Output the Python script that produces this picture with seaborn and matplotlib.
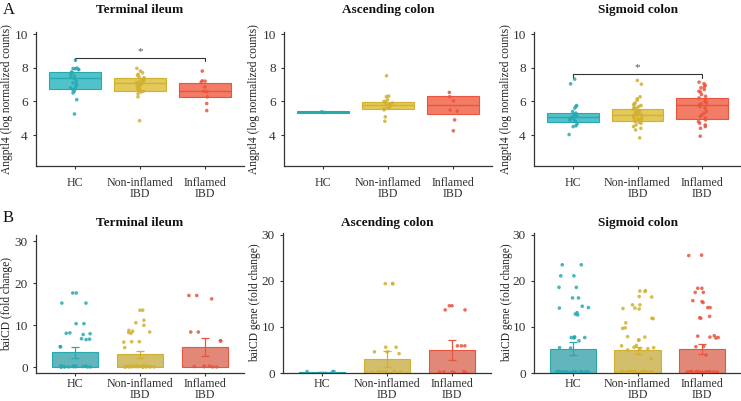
import numpy as np
import pandas as pd
import matplotlib
matplotlib.use("Agg")
import matplotlib.pyplot as plt
import seaborn as sns

GROUPS = ["HC", "Non-inflamed\nIBD", "Inflamed\nIBD"]
SITES = ["Terminal ileum", "Ascending colon", "Sigmoid colon"]
FILL = ["#52C2CA", "#E3C95A", "#F27C66"]
EDGE = ["#27A9B2", "#D1B032", "#E8553F"]

# --- panel A: Angptl4 (log normalized counts), points per group ---
ti_hc = [8.45, 7.98, 7.95, 7.93, 7.9, 7.88, 7.75, 7.7, 7.6, 7.5, 7.42, 7.35, 7.2,
         7.1, 7.0, 6.9, 6.8, 6.75, 6.7, 6.6, 6.5, 6.1, 5.25]
ti_ni = [7.96, 7.8, 7.7, 7.6, 7.55, 7.45, 7.4, 7.35, 7.3, 7.25, 7.2, 7.15, 7.1, 7.05,
         7.0, 6.95, 6.9, 6.85, 6.8, 6.75, 6.7, 6.65, 6.6, 6.55, 6.45, 6.27, 4.85]
ti_inf = [7.8, 7.22, 7.2, 7.15, 6.86, 6.6, 6.57, 6.27, 5.87, 5.45]
ac_hc = [5.38, 5.34]
ac_ni = [7.52, 6.31, 6.28, 6.1, 6.0, 5.97, 5.9, 5.85, 5.8, 5.75, 5.7, 5.65, 5.6,
         5.55, 5.5, 5.08, 4.82]
ac_inf = [6.53, 6.27, 6.03, 5.48, 5.42, 4.9, 4.25]
sc_hc = [7.32, 7.04, 5.75, 5.7, 5.6, 5.4, 5.3, 5.25, 5.2, 5.15, 5.1, 5.05, 5.0, 4.95,
         4.9, 4.85, 4.8, 4.65, 4.55, 4.5, 4.03]
sc_ni = [7.24, 7.02, 6.27, 6.15, 6.07, 5.9, 5.85, 5.8, 5.75, 5.7, 5.65, 5.6, 5.55,
         5.5, 5.45, 5.4, 5.35, 5.3, 5.25, 5.2, 5.18, 5.15, 5.1, 5.05, 5.0, 4.95, 4.9,
         4.85, 4.8, 4.75, 4.7, 4.6, 4.5, 4.4, 4.3, 3.83]
sc_inf = [7.14, 7.05, 6.95, 6.86, 6.8, 6.7, 6.6, 6.55, 6.4, 6.3, 6.2, 6.1, 6.0, 5.9,
          5.85, 5.8, 5.7, 5.6, 5.4, 5.3, 5.2, 5.1, 5.0, 4.9, 4.8, 4.7, 4.6, 4.5, 4.4, 3.93]

# box stats (q1, median, q3) per site, order HC / non-inflamed / inflamed
box_q1 = [[6.72, 6.63, 6.27], [5.30, 5.55, 5.26], [4.80, 4.84, 4.96]]
box_med = [[7.38, 7.07, 6.59], [5.36, 5.77, 5.77], [5.08, 5.18, 5.80]]
box_q3 = [[7.72, 7.36, 7.12], [5.42, 5.99, 6.29], [5.30, 5.52, 6.17]]
sig_y = [8.57, None, 7.60]

# --- panel B: baiCD (fold change), points per group ---
b_ti_hc = [17.7, 17.7, 15.3, 15.3, 10.4, 10.4, 8.1, 8.0, 7.8, 8.2, 6.7, 6.8, 6.6, 4.9, 4.9,
           0.2, 0.1, 0.3, 0.2, 0.1, 0.2, 0.3, 0.1, 0.2, 0.2, 0.1, 0.3, 0.2, 0.1, 0.2, 0.3, 0.1, 0.2]
b_ti_ni = [13.6, 13.6, 11.2, 10.6, 10.0, 8.8, 8.6, 8.4, 8.3, 8.1, 6.1, 6.1, 6.0, 4.7,
           0.2, 0.1, 0.3, 0.2, 0.1, 0.2, 0.3, 0.1, 0.2, 0.2, 0.1, 0.3, 0.2, 0.1, 0.2, 0.3,
           0.1, 0.2, 0.2, 0.1, 0.3, 0.2, 0.1, 0.2]
b_ti_inf = [17.1, 17.1, 16.3, 8.4, 8.4, 6.3, 6.3, 0.2, 0.1, 0.3, 0.2, 0.1, 0.2]
b_ac_hc = [0.3, 0.3, 0.3]
b_ac_ni = [19.4, 19.4, 19.4, 5.6, 5.6, 4.6, 4.6, 4.2,
           0.2, 0.1, 0.3, 0.2, 0.1, 0.2, 0.3, 0.1, 0.2, 0.2]
b_ac_inf = [14.6, 14.6, 13.7, 13.7, 5.9, 5.9, 5.9, 0.2, 0.1, 0.3, 0.2, 0.1, 0.2]
b_sc_hc = [23.5, 23.5, 21.1, 21.1, 18.6, 18.6, 16.3, 16.3, 14.5, 14.2, 14.1, 13.1, 12.8,
           12.6, 7.8, 7.8, 7.7, 7.7, 7.6, 7.0, 5.5, 5.4,
           0.2, 0.1, 0.3, 0.2, 0.1, 0.2, 0.3, 0.1, 0.2, 0.2, 0.1, 0.3, 0.2, 0.1, 0.2, 0.3,
           0.1, 0.2, 0.2, 0.1, 0.3, 0.2, 0.1, 0.2]
b_sc_ni = [17.9, 17.8, 17.7, 16.6, 16.5, 14.8, 14.8, 14.0, 13.9, 14.1, 11.8, 11.9, 10.9,
           9.7, 9.8, 7.9, 7.8, 7.2, 7.1, 6.0, 5.9, 5.6, 5.5, 5.3, 5.2, 5.0, 3.1,
           0.2, 0.1, 0.3, 0.2, 0.1, 0.2, 0.3, 0.1, 0.2, 0.2, 0.1, 0.3, 0.2, 0.1, 0.2, 0.3,
           0.1, 0.2, 0.2, 0.1, 0.3, 0.2, 0.1, 0.2, 0.3, 0.2, 0.1, 0.2]
b_sc_inf = [25.6, 25.5, 18.4, 18.4, 17.5, 17.5, 15.7, 15.5, 15.3, 14.2, 14.2, 12.3, 12.0,
            11.9, 8.1, 8.0, 7.8, 7.7, 7.6, 5.8, 5.7, 3.9,
            0.2, 0.1, 0.3, 0.2, 0.1, 0.2, 0.3, 0.1, 0.2, 0.2, 0.1, 0.3, 0.2, 0.1, 0.2, 0.3,
            0.1, 0.2, 0.2, 0.1, 0.3, 0.2]

# bar means and standard errors
bar_mean = [[3.62, 3.07, 4.80], [0.20, 3.10, 5.05], [5.30, 4.95, 5.20]]
bar_se = [[1.30, 0.80, 2.20], [0.05, 1.75, 2.15], [1.45, 0.80, 1.00]]

A_VALS = [[ti_hc, ti_ni, ti_inf], [ac_hc, ac_ni, ac_inf], [sc_hc, sc_ni, sc_inf]]
B_VALS = [[b_ti_hc, b_ti_ni, b_ti_inf], [b_ac_hc, b_ac_ni, b_ac_inf],
          [b_sc_hc, b_sc_ni, b_sc_inf]]
B_YLABEL = ["baiCD (fold change)", "baiCD gene (fold change)", "baiCD gene (fold change)"]

sns.set_theme(style="white")
plt.rcParams["font.family"] = ["Liberation Serif", "DejaVu Serif"]
plt.rcParams["axes.edgecolor"] = "#333333"
np.random.seed(3)

W, H = 741, 401
fig = plt.figure(figsize=(W / 100, H / 100), dpi=100)


def px_axes(x0, y0, x1, y1):
    return fig.add_axes([x0 / W, 1 - y1 / H, (x1 - x0) / W, (y1 - y0) / H])


def long_df(groups):
    rows = [(g, v) for g, vals in zip(GROUPS, groups) for v in vals]
    return pd.DataFrame(rows, columns=["group", "value"])


def style_axes(ax, ylabel, xpad):
    sns.despine(ax=ax)
    for s in ["left", "bottom"]:
        ax.spines[s].set_linewidth(0.9)
        ax.spines[s].set_color("#333333")
    ax.tick_params(axis="both", length=2.5, width=0.8, color="#333333",
                   labelsize=9.5, labelcolor="#333333", left=True, bottom=True)
    ax.tick_params(axis="x", pad=xpad, labelsize=8.6)
    ax.set_xticks(range(3))
    ax.set_xticklabels(GROUPS, linespacing=0.92)
    ax.set_xlim(-0.6, 2.6)
    ax.set_xlabel("")
    ax.set_ylabel(ylabel, fontsize=8.3, color="#222222")


# top row: boxes + points
top_rects = [(36, 32, 244, 166), (284, 32, 492, 166), (534, 32, 741, 166)]
top_lab_x = [-0.112, -0.115, -0.106]
for i, rect in enumerate(top_rects):
    ax = px_axes(*rect)
    q1 = np.array(box_q1[i])
    q3 = np.array(box_q3[i])
    ax.bar(range(3), q3 - q1, bottom=q1, width=0.8, color=FILL, edgecolor=EDGE,
           linewidth=0.8, zorder=1)
    ax.hlines(box_med[i], np.arange(3) - 0.4, np.arange(3) + 0.4, colors=EDGE,
              linewidth=1.0, zorder=2)
    sns.stripplot(data=long_df(A_VALS[i]), x="group", y="value", hue="group",
                  order=GROUPS, hue_order=GROUPS, palette=EDGE, jitter=0.07, size=2.6,
                  alpha=0.85, linewidth=0, legend=False, ax=ax, zorder=3)
    if sig_y[i] is not None:
        y = sig_y[i]
        ax.plot([0, 0, 2, 2], [y - 0.2, y, y, y - 0.2], color="#333333", lw=0.8)
        ax.text(1, y + 0.12, "*", ha="center", va="bottom", fontsize=8, color="#555555")
    ax.set_ylim(2.16, 10.12)
    ax.set_yticks([4, 6, 8, 10])
    style_axes(ax, "Angptl4 (log normalized counts)", 5.5)
    ax.yaxis.set_label_coords(top_lab_x[i], 0.5)
    fig.text((rect[0] + rect[2]) / 2 / W, 1 - 10 / H, SITES[i], ha="center",
             va="center", fontsize=9.5, fontweight="bold", color="#111111")

# bottom row: bars + SE + points
bot_rects = [(36, 235, 244, 373), (283, 233, 491, 373), (534, 233, 741, 373)]
bot_ylim = [(-1.35, 31.5), (0, 30.4), (0, 30.4)]
bot_lab_x = [-0.112, -0.106, -0.1]
for i, rect in enumerate(bot_rects):
    ax = px_axes(*rect)
    summ = pd.DataFrame({"group": GROUPS, "mean": bar_mean[i]})
    sns.barplot(data=summ, x="group", y="mean", hue="group", order=GROUPS,
                hue_order=GROUPS, palette=FILL, width=0.72, errorbar=None,
                legend=False, ax=ax, zorder=1)
    for p, ec in zip(ax.patches, EDGE):
        p.set_edgecolor(ec)
        p.set_linewidth(0.8)
    for j in range(3):
        ax.errorbar(j, bar_mean[i][j], yerr=bar_se[i][j], fmt="none", ecolor=EDGE[j],
                    elinewidth=0.9, capsize=3, capthick=0.9, zorder=2)
    sns.stripplot(data=long_df(B_VALS[i]), x="group", y="value", hue="group",
                  order=GROUPS, hue_order=GROUPS, palette=EDGE, jitter=0.25, size=2.6,
                  alpha=0.85, linewidth=0, legend=False, ax=ax, zorder=3)
    ax.set_ylim(*bot_ylim[i])
    ax.set_yticks([0, 10, 20, 30])
    style_axes(ax, B_YLABEL[i], 1.0)
    ax.yaxis.set_label_coords(bot_lab_x[i], 0.5)
    fig.text((rect[0] + rect[2]) / 2 / W, 1 - 223 / H, SITES[i], ha="center",
             va="center", fontsize=9.5, fontweight="bold", color="#111111")

fig.text(3 / W, 1 - 10 / H, "A", ha="left", va="center", fontsize=12, color="#111111")
fig.text(3 / W, 1 - 218 / H, "B", ha="left", va="center", fontsize=12, color="#111111")

fig.savefig("out.png", dpi=100)
